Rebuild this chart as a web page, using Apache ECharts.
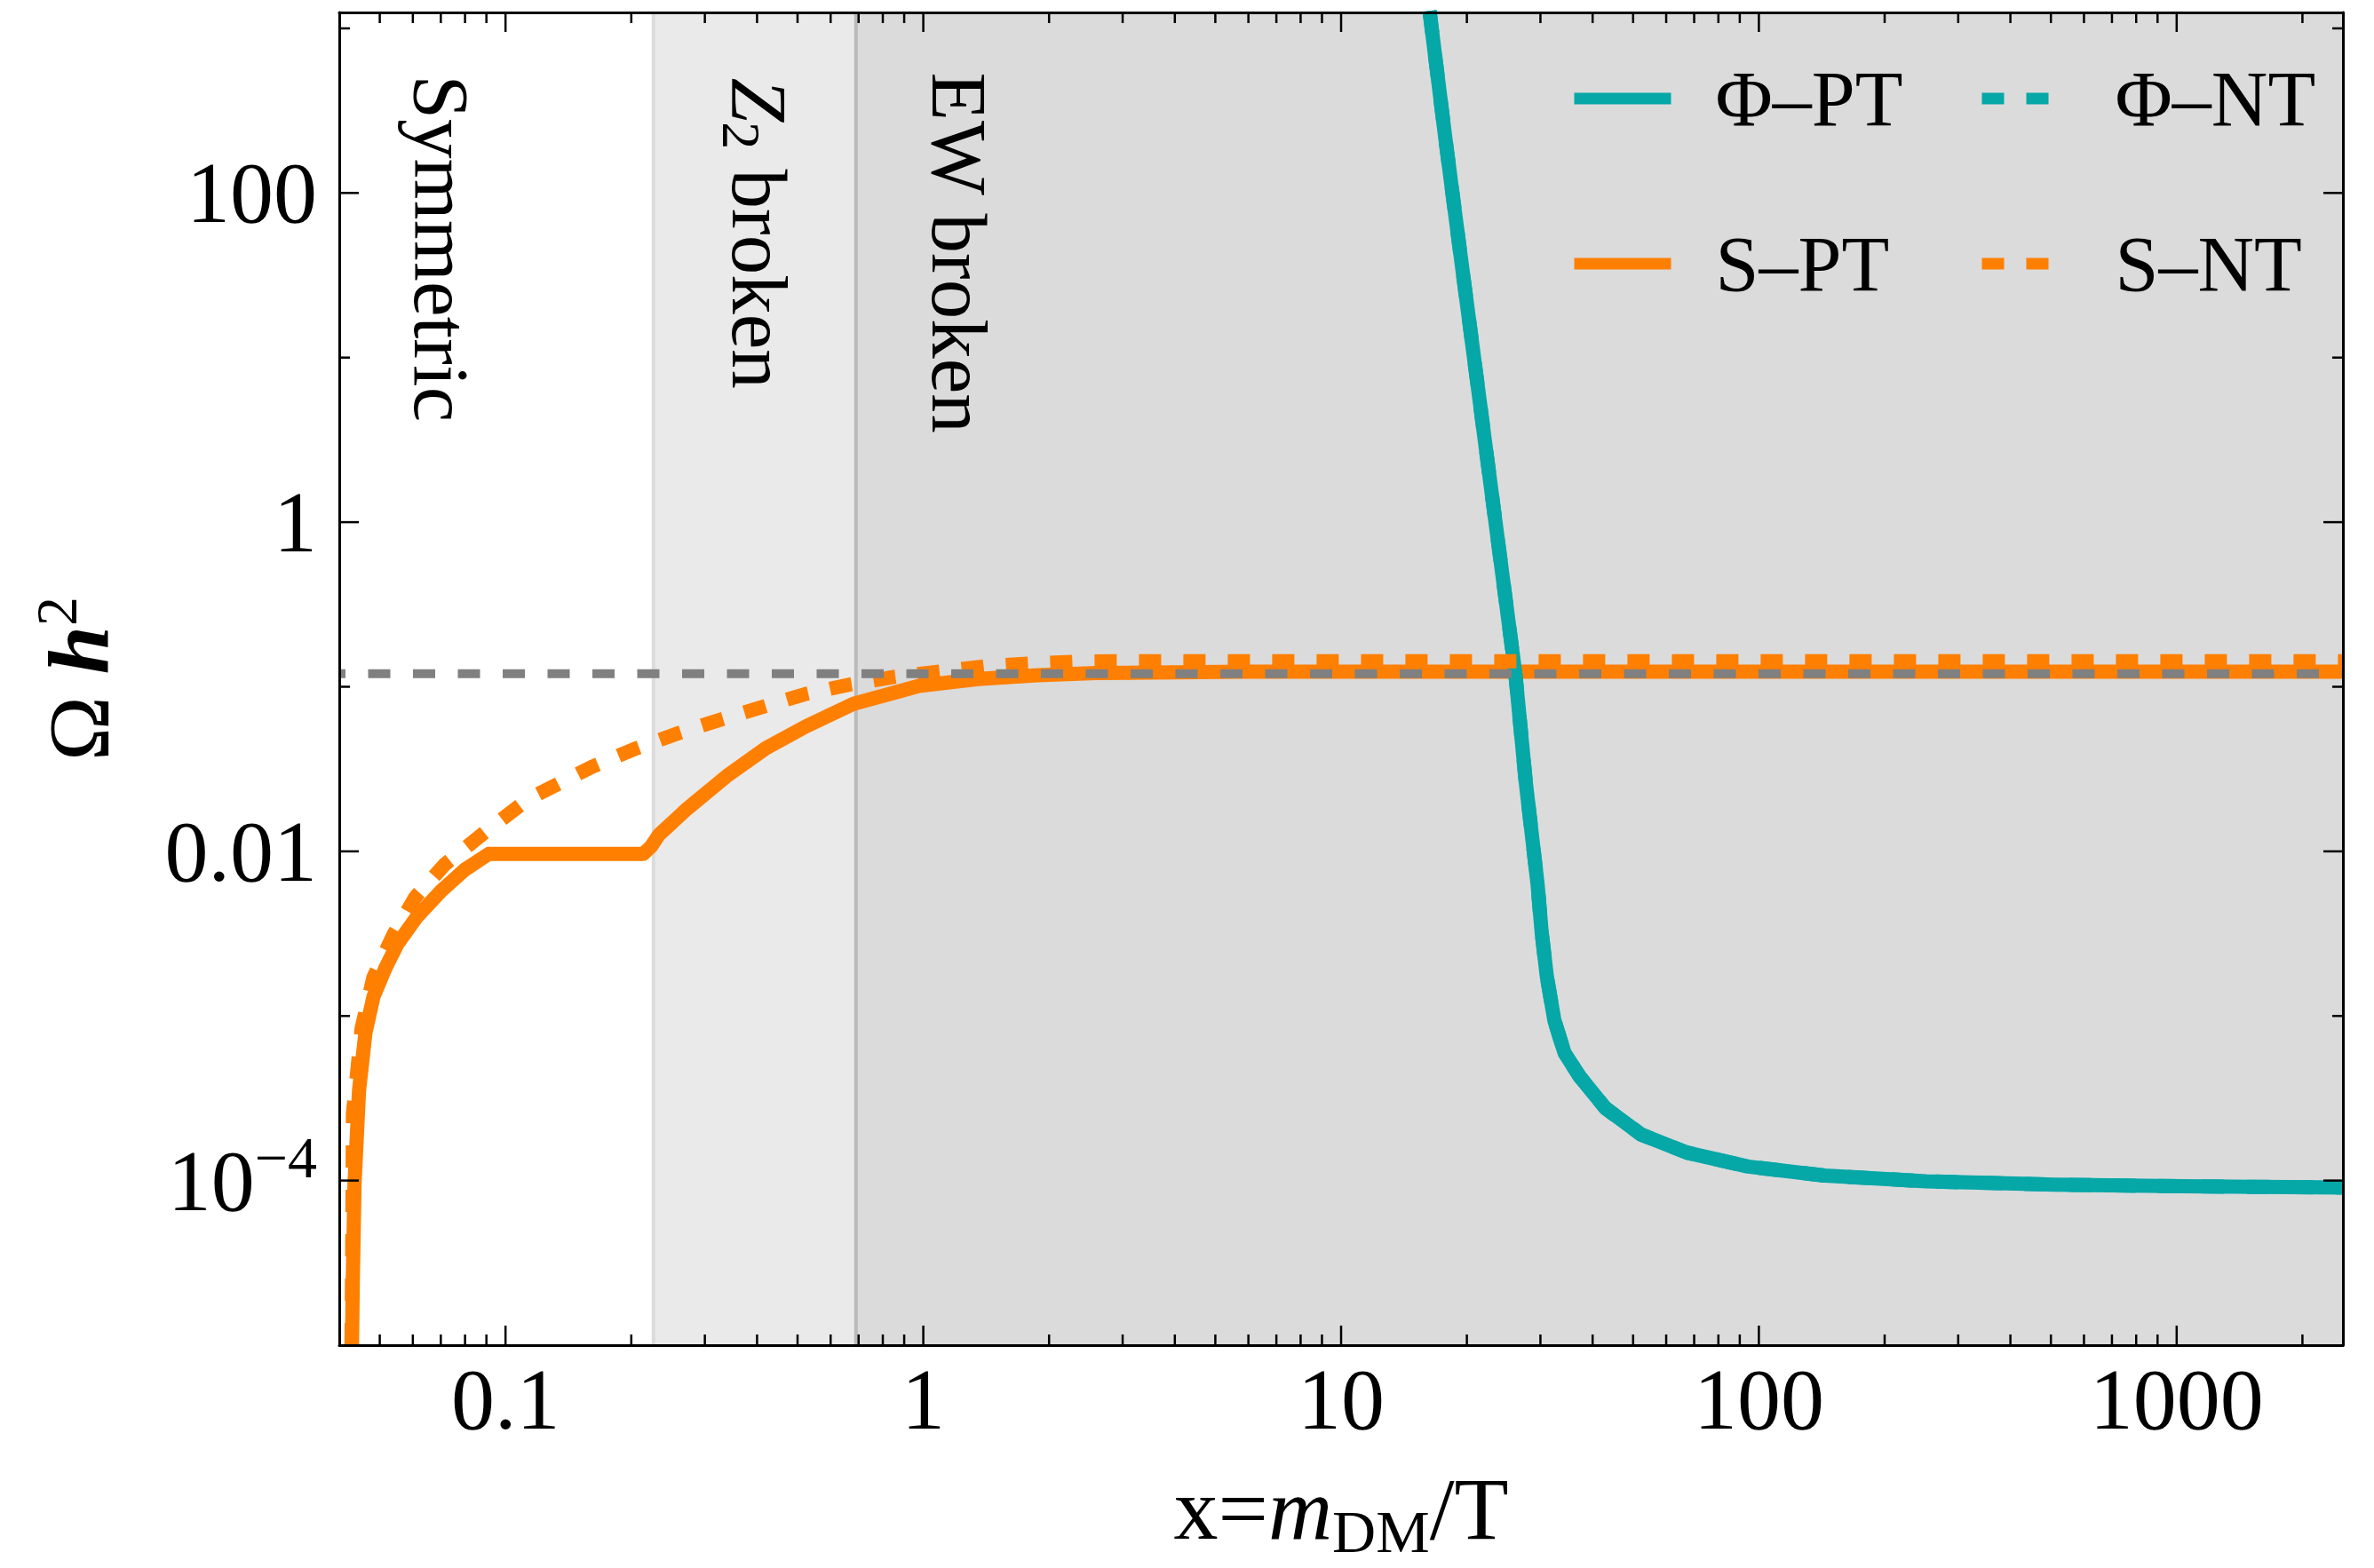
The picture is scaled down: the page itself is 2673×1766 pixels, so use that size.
<!DOCTYPE html>
<html>
<head>
<meta charset="utf-8">
<script src="https://cdn.jsdelivr.net/npm/echarts@6/dist/echarts.min.js"></script>
<style>
html,body{margin:0;padding:0;background:#ffffff;}
#chart{width:2673px;height:1766px;}
</style>
</head>
<body>
<div id="chart"></div>
<script>
// ---------------- data ----------------
const xRange = [0.04, 2500];
const yRange = [1e-5, 1250];
const relicX = [0.04, 2500];
const relicY = [0.12, 0.12];

// phase regions
const phaseNames  = ['Symmetric', 'Z\u2082 broken', 'EW broken'];
const phaseBounds = [0.04, 0.226, 0.69, 2500];
const phaseLabelX = [0.0704, 0.406, 1.221];
const phaseLabelTopY = [520, 500, 540];

// S - PT (solid orange)
const sPT_x = [0.0429, 0.0431, 0.0435, 0.0446, 0.0462, 0.0483, 0.0516, 0.0551, 0.0614, 0.0701, 0.0799, 0.0911,
               0.2135, 0.2230, 0.233, 0.2716, 0.3379, 0.4201, 0.523, 0.680, 0.976, 1.353, 1.876, 2.598, 5.875, 2500];
const sPT_y = [1.0e-5, 2.5e-5, 9.46e-5, 3.52e-4, 7.89e-4, 1.31e-3, 1.96e-3, 2.73e-3, 4.01e-3, 5.74e-3, 7.74e-3, 9.64e-3,
               9.64e-3, 0.01069, 0.01262, 0.01807, 0.02858, 0.04236, 0.0574, 0.0787, 0.1012, 0.1114, 0.1175, 0.1211, 0.1236, 0.1236];

// S - NT (dotted orange)
const sNT_x = [0.0428, 0.0430, 0.04313, 0.04524, 0.0483, 0.0539, 0.0608, 0.0716, 0.0891, 0.1133, 0.1607, 0.2066,
               0.260, 0.3305, 0.420, 0.5253, 0.671, 0.857, 1.095, 1.398, 1.786, 2.281, 2.913, 2500];
const sNT_y = [1.0e-5, 4.91e-5, 2.54e-4, 8.39e-4, 1.72e-3, 3.11e-3, 5.26e-3, 8.34e-3, 0.01303, 0.02075, 0.03258, 0.04246,
               0.05236, 0.0637, 0.0766, 0.0906, 0.1035, 0.1151, 0.1236, 0.1330, 0.1380, 0.1416, 0.1429, 0.1429];

// Phi - PT (solid teal)
const phiPT_x = [16.28, 17.81, 19.32, 20.97, 22.75, 24.69, 26.14, 27.67, 29.53, 30.2, 31.07, 32.4, 34.27, 37.27,
                 42.91, 52.24, 67.22, 94.2, 143.6, 251.8, 508, 1026, 1892, 2500];
const phiPT_y = [1279, 203.7, 41.69, 8.570, 1.754, 0.3597, 0.1186, 0.02636, 0.006324, 0.003243, 0.001746, 0.0009397,
                 0.0005957, 0.0004276, 0.0002754, 0.0001905, 0.0001479, 0.0001216, 0.0001072, 0.0000989, 0.0000944,
                 0.0000923, 0.0000912, 0.0000908];
// Phi - NT coincides with Phi - PT in the figure (drawn underneath)
const phiNT_x = phiPT_x;
const phiNT_y = phiPT_y;

// axis tick values / labels
const xTickLabelValues = [0.1, 1, 10, 100, 1000];
const xTickLabels      = ['0.1', '1', '10', '100', '1000'];
const yTickLabelValues = [1e-4, 0.01, 1, 100];
const yTickLabels      = ['{b|10}{s|\u22124}', '0.01', '1', '100'];
const xMajorTicks = [0.1, 1, 10, 100, 1000];
const xMinorTicks = [0.05, 0.06, 0.07, 0.08, 0.09,
                     0.2, 0.3, 0.4, 0.5, 0.6, 0.7, 0.8, 0.9,
                     2, 3, 4, 5, 6, 7, 8, 9,
                     20, 30, 40, 50, 60, 70, 80, 90,
                     200, 300, 400, 500, 600, 700, 800, 900,
                     2000];
const yMajorTicks = [1e-4, 0.01, 1, 100];
const yMinorTicks = [1e-3, 0.1, 10, 1000];

const seriesNames = ['\u03A6\u2013PT', '\u03A6\u2013NT', 'S\u2013PT', 'S\u2013NT'];

// ---------------- styles ----------------
const FONT = 'Liberation Serif';
const ORANGE = '#FF7F00';
const TEAL = '#05A7A7';
const GRAY = '#808080';
const phaseFill = ['#FFFFFF', '#EAEAEA', '#DBDBDB'];
const phaseEdge = [null, '#DCDCDC', '#BABABA'];
const phaseLabelMarkup = ['Symmetric', '{zi|Z}{zs|2}{t| broken}', 'EW broken'];

const zip = (xs, ys) => xs.map((x, i) => [x, ys[i]]);
const logNear = (a, b) => Math.abs(Math.log10(a) - Math.log10(b)) < 1e-6;
const xLabelFmt = v => { const i = xTickLabelValues.findIndex(t => logNear(t, v)); return i < 0 ? '' : xTickLabels[i]; };
const yLabelFmt = v => { const i = yTickLabelValues.findIndex(t => logNear(t, v)); return i < 0 ? '' : yTickLabels[i]; };

const phaseData = phaseNames.map((n, i) => [phaseBounds[i], yRange[0], phaseBounds[i + 1]]);
const phaseLabelData = phaseNames.map((n, i) => [phaseLabelX[i], phaseLabelTopY[i]]);
const tickData = [].concat(
  xMajorTicks.map(v => [v, yRange[0], 0, 1]),
  xMinorTicks.map(v => [v, yRange[0], 0, 0]),
  yMajorTicks.map(v => [xRange[0], v, 1, 1]),
  yMinorTicks.map(v => [xRange[0], v, 1, 0])
);

const chart = echarts.init(document.getElementById('chart'), null, {renderer: 'svg', width: 2673, height: 1766});

const frameAxisCommon = {
  type: 'log', logBase: 10, z: 10,
  axisLine: {show: true, onZero: false, lineStyle: {color: '#000', width: 3}},
  axisTick: {show: false}, minorTick: {show: false},
  splitLine: {show: false}, minorSplitLine: {show: false}
};

const option = {
  animation: false,
  backgroundColor: '#ffffff',
  grid: {left: 382, right: 35, top: 14, bottom: 251, containLabel: false, outerBoundsMode: 'none'},
  xAxis: [
    Object.assign({}, frameAxisCommon, {
      position: 'bottom', min: xRange[0], max: xRange[1],
      axisLabel: {show: true, formatter: xLabelFmt, margin: 12, color: '#000', fontFamily: FONT, fontSize: 98,
                  showMinLabel: false, showMaxLabel: false},
      name: '{n|x=}{i|m}{sub|DM}{n|/T}', nameLocation: 'middle', nameGap: 124,
      nameTextStyle: {color: '#000', fontFamily: FONT, fontSize: 100,
        rich: {
          n: {fontFamily: FONT, fontSize: 100, lineHeight: 120, color: '#000'},
          i: {fontFamily: FONT, fontSize: 100, lineHeight: 120, fontStyle: 'italic', color: '#000'},
          sub: {fontFamily: FONT, fontSize: 68, lineHeight: 68, verticalAlign: 'bottom', color: '#000'}
        }}
    }),
    Object.assign({}, frameAxisCommon, {
      position: 'top', min: xRange[0], max: xRange[1], axisLabel: {show: false}
    })
  ],
  yAxis: [
    Object.assign({}, frameAxisCommon, {
      position: 'left', min: yRange[0], max: yRange[1],
      axisLabel: {show: true, formatter: yLabelFmt, margin: 25, color: '#000', fontFamily: FONT, fontSize: 98,
                  showMinLabel: false, showMaxLabel: false,
                  rich: {
                    b: {fontFamily: FONT, fontSize: 98, lineHeight: 118, color: '#000'},
                    s: {fontFamily: FONT, fontSize: 66, lineHeight: 66, verticalAlign: 'top', color: '#000'}
                  }},
      name: '{o|\u03A9}{n| }{h|h}{s|2}', nameLocation: 'middle', nameGap: 234, nameRotate: 90,
      nameTextStyle: {color: '#000', fontFamily: FONT, fontSize: 98,
        rich: {
          o: {fontFamily: FONT, fontSize: 98, lineHeight: 118, color: '#000'},
          n: {fontFamily: FONT, fontSize: 98, lineHeight: 118, color: '#000'},
          h: {fontFamily: FONT, fontSize: 98, lineHeight: 118, fontStyle: 'italic', fontWeight: 'bold', color: '#000'},
          s: {fontFamily: FONT, fontSize: 66, lineHeight: 66, verticalAlign: 'top', color: '#000'}
        }}
    }),
    Object.assign({}, frameAxisCommon, {
      position: 'right', min: yRange[0], max: yRange[1], axisLabel: {show: false}
    })
  ],
  legend: [
    {
      data: [seriesNames[0], seriesNames[2]], orient: 'vertical', left: 1766, top: 66, padding: 0,
      itemWidth: 109, itemHeight: 13, itemGap: 96, selectedMode: false,
      lineStyle: {width: 13}, itemStyle: {opacity: 0},
      textStyle: {color: '#000', fontFamily: FONT, fontSize: 88, lineHeight: 90, padding: [0, 0, 0, 45]}
    },
    {
      data: [seriesNames[1], seriesNames[3]], orient: 'vertical', left: 2225, top: 66, padding: 0,
      itemWidth: 76, itemHeight: 13, itemGap: 96, selectedMode: false,
      lineStyle: {width: 13}, itemStyle: {opacity: 0},
      textStyle: {color: '#000', fontFamily: FONT, fontSize: 88, lineHeight: 90, padding: [0, 0, 0, 69]}
    }
  ],
  series: [
    {
      name: 'phases', type: 'custom', coordinateSystem: 'cartesian2d', silent: true, z: 1,
      encode: {x: 0, y: 1}, data: phaseData,
      renderItem: function (params, api) {
        const i = params.dataIndex;
        const p0 = api.coord([api.value(0), yRange[1]]);
        const p1 = api.coord([api.value(2), yRange[0]]);
        const children = [{type: 'rect', shape: {x: p0[0], y: p0[1], width: p1[0] - p0[0], height: p1[1] - p0[1]},
                           style: {fill: phaseFill[i]}}];
        if (phaseEdge[i]) {
          children.push({type: 'line', shape: {x1: p0[0], y1: p0[1], x2: p0[0], y2: p1[1]},
                         style: {stroke: phaseEdge[i], lineWidth: 4}});
        }
        return {type: 'group', children: children};
      }
    },
    {
      name: 'phaseLabels', type: 'custom', coordinateSystem: 'cartesian2d', silent: true, z: 1,
      encode: {x: 0, y: 1}, data: phaseLabelData,
      renderItem: function (params, api) {
        const p = api.coord([api.value(0), api.value(1)]);
        return {
          type: 'text', x: p[0], y: p[1], rotation: -Math.PI / 2,
          style: {
            text: phaseLabelMarkup[params.dataIndex], fill: '#000', fontFamily: FONT, fontSize: 89,
            align: 'left', verticalAlign: 'middle',
            rich: {
              zi: {fontFamily: FONT, fontSize: 89, lineHeight: 102, fontStyle: 'italic', fill: '#000'},
              zs: {fontFamily: FONT, fontSize: 62, lineHeight: 62, verticalAlign: 'bottom', fill: '#000'},
              t: {fontFamily: FONT, fontSize: 89, lineHeight: 102, fill: '#000'}
            }
          }
        };
      }
    },
    {
      name: seriesNames[2], type: 'line', data: zip(sPT_x, sPT_y), symbol: 'none', showSymbol: false,
      silent: true, z: 2, lineStyle: {color: ORANGE, width: 16, cap: 'butt', join: 'round'}, itemStyle: {color: ORANGE}
    },
    {
      name: seriesNames[1], type: 'line', data: zip(phiNT_x, phiNT_y), symbol: 'none', showSymbol: false,
      silent: true, z: 2, lineStyle: {color: TEAL, width: 16, type: [25, 25]}, itemStyle: {color: TEAL}
    },
    {
      name: seriesNames[0], type: 'line', data: zip(phiPT_x, phiPT_y), symbol: 'none', showSymbol: false,
      silent: true, z: 2, lineStyle: {color: TEAL, width: 16, join: 'round'}, itemStyle: {color: TEAL}
    },
    {
      name: seriesNames[3], type: 'line', data: zip(sNT_x, sNT_y), symbol: 'none', showSymbol: false,
      silent: true, z: 2, lineStyle: {color: ORANGE, width: 16, type: [25, 25]}, itemStyle: {color: ORANGE}
    },
    {
      name: 'relic', type: 'line', data: zip(relicX, relicY), symbol: 'none', showSymbol: false,
      silent: true, z: 3, lineStyle: {color: GRAY, width: 10, type: [25, 25.5], dashOffset: 18}, itemStyle: {color: GRAY}
    },
    {
      name: 'ticks', type: 'custom', coordinateSystem: 'cartesian2d', silent: true, z: 4,
      encode: {x: 0, y: 1}, data: tickData,
      renderItem: function (params, api) {
        const v0 = api.value(0), v1 = api.value(1), isY = api.value(2), major = api.value(3);
        const len = major ? 22 : 12;
        const st = {stroke: '#000', lineWidth: 2.5};
        if (!isY) {
          const b = api.coord([v0, yRange[0]]), t = api.coord([v0, yRange[1]]);
          return {type: 'group', children: [
            {type: 'line', shape: {x1: b[0], y1: b[1], x2: b[0], y2: b[1] - len}, style: st},
            {type: 'line', shape: {x1: t[0], y1: t[1], x2: t[0], y2: t[1] + len}, style: st}
          ]};
        }
        const l = api.coord([xRange[0], v1]), r = api.coord([xRange[1], v1]);
        return {type: 'group', children: [
          {type: 'line', shape: {x1: l[0], y1: l[1], x2: l[0] + len, y2: l[1]}, style: st},
          {type: 'line', shape: {x1: r[0], y1: r[1], x2: r[0] - len, y2: r[1]}, style: st}
        ]};
      }
    }
  ]
};

chart.setOption(option);
</script>
</body>
</html>
